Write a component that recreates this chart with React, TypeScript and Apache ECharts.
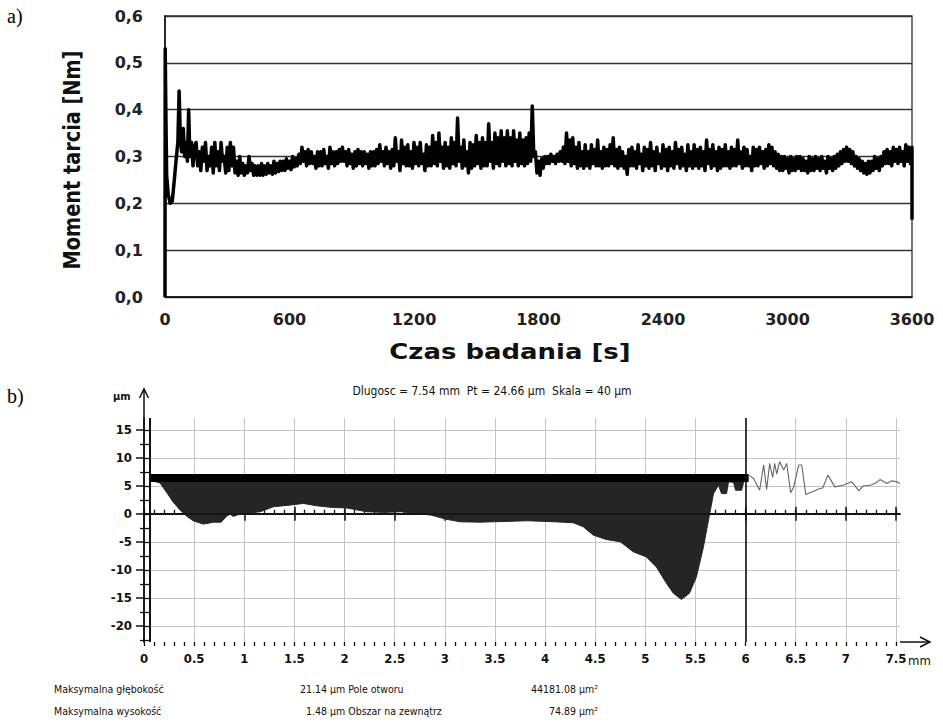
import React, { useEffect, useRef } from 'react';
import * as echarts from 'echarts';

// ---------- Panel a) : friction moment vs time ----------
const timeTicks = [0, 600, 1200, 1800, 2400, 3000, 3600];
const torqueTicks = [0, 0.1, 0.2, 0.3, 0.4, 0.5, 0.6];

// detailed start of the run (time [s], torque [Nm])
const startTime = [0, 1, 4, 8, 15, 25, 35, 45, 55, 62, 68, 74, 80, 88, 95, 102, 108, 114, 120, 128, 135, 142];
const startTorque = [0, 0.53, 0.40, 0.26, 0.22, 0.20, 0.205, 0.25, 0.30, 0.33, 0.44, 0.34, 0.31, 0.36, 0.30, 0.33, 0.29, 0.40, 0.30, 0.33, 0.28, 0.32];

// noisy signal read as local peaks (upper) and troughs (lower), every 15 s from 150 s
const sampleStart = 150;
const sampleStep = 15;
const torqueUpper = [
  0.33, 0.31, 0.32, 0.33, 0.30, 0.32, 0.33, 0.31, 0.33, 0.30, 0.32, 0.33, 0.32, 0.29, 0.30, 0.285, 0.28, 0.30, 0.285, 0.28,
  0.28, 0.285, 0.28, 0.285, 0.28, 0.29, 0.285, 0.29, 0.29, 0.295, 0.29, 0.30, 0.295, 0.305, 0.32, 0.31, 0.315, 0.31, 0.30, 0.31,
  0.31, 0.315, 0.30, 0.32, 0.31, 0.31, 0.315, 0.32, 0.31, 0.315, 0.305, 0.31, 0.315, 0.31, 0.31, 0.305, 0.31, 0.31, 0.315, 0.325,
  0.31, 0.32, 0.31, 0.315, 0.34, 0.31, 0.335, 0.32, 0.325, 0.31, 0.33, 0.32, 0.33, 0.305, 0.325, 0.32, 0.345, 0.33, 0.35, 0.32,
  0.33, 0.32, 0.34, 0.33, 0.382, 0.32, 0.335, 0.31, 0.33, 0.325, 0.345, 0.33, 0.34, 0.33, 0.37, 0.33, 0.35, 0.34, 0.355, 0.34,
  0.355, 0.34, 0.355, 0.335, 0.35, 0.335, 0.34, 0.35, 0.408, 0.31, 0.29, 0.295, 0.30, 0.30, 0.305, 0.30, 0.305, 0.31, 0.32, 0.35,
  0.335, 0.34, 0.32, 0.33, 0.31, 0.325, 0.31, 0.325, 0.315, 0.335, 0.31, 0.32, 0.315, 0.325, 0.34, 0.315, 0.32, 0.31, 0.30, 0.315,
  0.32, 0.31, 0.325, 0.305, 0.32, 0.315, 0.33, 0.31, 0.32, 0.305, 0.325, 0.315, 0.32, 0.31, 0.33, 0.315, 0.32, 0.305, 0.325, 0.31,
  0.325, 0.315, 0.32, 0.31, 0.335, 0.315, 0.325, 0.31, 0.32, 0.315, 0.325, 0.31, 0.32, 0.315, 0.335, 0.31, 0.32, 0.315, 0.30, 0.32,
  0.315, 0.32, 0.31, 0.315, 0.325, 0.32, 0.31, 0.305, 0.30, 0.30, 0.295, 0.30, 0.295, 0.30, 0.30, 0.295, 0.29, 0.30, 0.295, 0.30,
  0.295, 0.30, 0.29, 0.30, 0.295, 0.30, 0.305, 0.31, 0.315, 0.32, 0.315, 0.31, 0.30, 0.295, 0.29, 0.285, 0.29, 0.29, 0.30, 0.295,
  0.30, 0.31, 0.315, 0.31, 0.32, 0.315, 0.32, 0.31, 0.325, 0.32, 0.32,
];
const torqueLower = [
  0.28, 0.27, 0.29, 0.27, 0.28, 0.265, 0.28, 0.27, 0.29, 0.265, 0.27, 0.28, 0.265, 0.26, 0.265, 0.26, 0.265, 0.27, 0.26, 0.26,
  0.26, 0.26, 0.262, 0.265, 0.262, 0.265, 0.268, 0.27, 0.27, 0.275, 0.272, 0.278, 0.28, 0.285, 0.29, 0.28, 0.285, 0.285, 0.275, 0.28,
  0.28, 0.285, 0.275, 0.285, 0.28, 0.285, 0.29, 0.29, 0.28, 0.285, 0.275, 0.28, 0.285, 0.28, 0.285, 0.275, 0.28, 0.28, 0.285, 0.29,
  0.28, 0.285, 0.275, 0.28, 0.29, 0.27, 0.285, 0.28, 0.28, 0.275, 0.285, 0.28, 0.285, 0.27, 0.28, 0.28, 0.285, 0.28, 0.29, 0.275,
  0.28, 0.275, 0.285, 0.28, 0.29, 0.275, 0.28, 0.265, 0.275, 0.28, 0.285, 0.275, 0.28, 0.28, 0.29, 0.275, 0.285, 0.28, 0.29, 0.28,
  0.285, 0.28, 0.29, 0.28, 0.285, 0.28, 0.285, 0.29, 0.30, 0.265, 0.26, 0.275, 0.285, 0.285, 0.29, 0.285, 0.29, 0.29, 0.285, 0.29,
  0.28, 0.285, 0.275, 0.28, 0.275, 0.28, 0.275, 0.285, 0.28, 0.28, 0.275, 0.28, 0.28, 0.285, 0.28, 0.275, 0.28, 0.275, 0.262, 0.28,
  0.28, 0.275, 0.285, 0.27, 0.28, 0.275, 0.28, 0.27, 0.285, 0.275, 0.28, 0.27, 0.28, 0.275, 0.285, 0.275, 0.28, 0.27, 0.28, 0.275,
  0.28, 0.275, 0.28, 0.27, 0.285, 0.275, 0.28, 0.27, 0.275, 0.28, 0.28, 0.275, 0.28, 0.28, 0.285, 0.275, 0.28, 0.28, 0.27, 0.28,
  0.28, 0.285, 0.275, 0.28, 0.285, 0.28, 0.275, 0.27, 0.27, 0.275, 0.265, 0.27, 0.27, 0.275, 0.27, 0.27, 0.265, 0.27, 0.27, 0.275,
  0.27, 0.275, 0.265, 0.275, 0.27, 0.275, 0.28, 0.285, 0.29, 0.29, 0.285, 0.28, 0.275, 0.27, 0.265, 0.262, 0.265, 0.27, 0.275, 0.27,
  0.28, 0.285, 0.285, 0.28, 0.29, 0.285, 0.29, 0.28, 0.29, 0.285,
];
const endTime = 3600;
const endTorque = 0.165;

// ---------- Panel b) : surface profile ----------
const xMajorTicks = [0, 0.5, 1, 1.5, 2, 2.5, 3, 3.5, 4, 4.5, 5, 5.5, 6, 6.5, 7, 7.5];
const xMinorTicks = Array.from({ length: 76 }, (_, i) => i / 10);
const yMajorTicks = [-20, -15, -10, -5, 0, 5, 10, 15];
const yMinorTicks = [-22.5, -17.5, -12.5, -7.5, -2.5, 2.5, 7.5, 12.5];
const yAllTicks = [-22.5, -20, -17.5, -15, -12.5, -10, -7.5, -5, -2.5, 0, 2.5, 5, 7.5, 10, 12.5, 15];

const profileX = [0.055, 0.06, 0.16, 0.23, 0.29, 0.36, 0.43, 0.49, 0.59, 0.64, 0.69, 0.77, 0.82, 0.86, 0.89, 0.93, 0.99, 1.08, 1.16, 1.29, 1.46, 1.59, 1.72, 1.89, 2.02, 2.22, 2.39, 2.56, 2.72, 2.86, 3.02, 3.15, 3.35, 3.48, 3.65, 3.82, 4.05, 4.28, 4.38, 4.48, 4.61, 4.75, 4.88, 5.01, 5.11, 5.21, 5.28, 5.36, 5.44, 5.51, 5.58, 5.63, 5.68, 5.73, 5.76, 5.81, 5.83, 5.88, 5.90, 5.96, 5.98, 6.03];
const profileY = [6.4, 6.0, 5.5, 3.7, 2.1, 0.66, -0.5, -1.25, -1.85, -1.7, -1.5, -1.5, -0.5, -0.05, -0.5, -0.2, 0, 0.2, 0.36, 1.25, 1.55, 1.85, 1.43, 1.1, 1.05, 0.36, 0.24, 0.36, 0.06, -0.24, -1.0, -1.43, -1.5, -1.43, -1.35, -1.25, -1.4, -1.6, -2.3, -3.8, -4.6, -5.0, -6.8, -7.7, -9.5, -12.4, -14.2, -15.3, -14.2, -11.25, -5.9, -1.1, 3.6, 5.1, 3.6, 3.6, 5.7, 5.6, 4.2, 4.2, 5.6, 6.3];

const outsideX = [6.03, 6.08, 6.14, 6.18, 6.21, 6.24, 6.27, 6.29, 6.31, 6.34, 6.38, 6.41, 6.45, 6.48, 6.53, 6.56, 6.60, 6.66, 6.74, 6.77, 6.82, 6.89, 6.97, 7.06, 7.13, 7.17, 7.24, 7.29, 7.34, 7.41, 7.46, 7.51, 7.54];
const outsideY = [6.9, 6.3, 4.2, 8.7, 4.35, 9.0, 6.5, 9.0, 7.1, 9.3, 7.8, 9.0, 3.75, 4.8, 8.7, 8.7, 3.45, 3.9, 4.5, 4.6, 6.9, 4.8, 5.1, 5.7, 4.1, 4.95, 5.1, 5.4, 6.1, 5.4, 5.9, 5.7, 5.4];

const referenceLevel = 6.4;
const referenceX = [0.055, 6.03];
const holeEnd = 6;
const profileStart = 0.055;

const NARROW = '"Liberation Sans Narrow", "DejaVu Sans Condensed", "Arial Narrow", "Liberation Sans", sans-serif';
const WIDE = '"DejaVu Sans", "Liberation Sans", sans-serif';
const SERIF = '"Liberation Serif", "DejaVu Serif", serif';

// layout
const A = { left: 165, top: 16, width: 747, height: 281 };
const B = { left: 144, top: 418, width: 756, height: 224 };

export default function App() {
  const ref = useRef<HTMLDivElement>(null);

  useEffect(() => {
    const chart = echarts.init(ref.current!, null, { renderer: 'svg' });

    const torqueData: number[][] = startTime.map((t, i) => [t, startTorque[i]]);
    torqueUpper.forEach((v, i) => {
      const t = sampleStart + i * sampleStep;
      torqueData.push([t, v]);
      if (i < torqueLower.length) torqueData.push([t + sampleStep / 2, torqueLower[i]]);
    });
    torqueData.push([endTime, endTorque]);

    const profileData = profileX.map((x, i) => [x, profileY[i]]);
    const outsideData = outsideX.map((x, i) => [x, outsideY[i]]);
    const referenceData = referenceX.map((x) => [x, referenceLevel]);

    const bRight = B.left + B.width;
    const bBottom = B.top + B.height;

    const bLabel = { fontFamily: NARROW, fontSize: 13, fontWeight: 'bold' as const, color: '#111' };

    const option: any = {
      animation: false,
      backgroundColor: '#fff',
      grid: [
        { ...A, show: true, borderColor: '#333', borderWidth: 1.3, containLabel: false },
        { ...B, show: false, containLabel: false },
      ],
      xAxis: [
        {
          gridIndex: 0,
          type: 'value',
          min: 0,
          max: 3600,
          interval: 600,
          axisLine: { show: true, lineStyle: { color: '#111', width: 1.5 } },
          axisTick: { show: false },
          splitLine: { show: false },
          axisLabel: {
            margin: 14,
            fontFamily: WIDE,
            fontWeight: 'bold',
            fontSize: 16,
            color: '#222',
            customValues: timeTicks,
            formatter: (v: number) => String(v),
          },
        },
        {
          gridIndex: 1,
          type: 'value',
          position: 'bottom',
          min: 0,
          max: 7.54,
          interval: 0.5,
          axisLine: { show: true, lineStyle: { color: '#111', width: 1.5 } },
          axisTick: { show: true, length: 7, customValues: xMajorTicks, lineStyle: { color: '#111', width: 1.5 } },
          axisLabel: {
            show: true,
            margin: 10,
            customValues: xMajorTicks,
            formatter: (v: number) => String(v),
            ...bLabel,
          },
          splitLine: { show: true, lineStyle: { color: '#c4c4c4', width: 1 } },
        },
        {
          gridIndex: 1,
          type: 'value',
          position: 'top',
          min: 0,
          max: 7.54,
          interval: 0.5,
          axisLine: { show: true, lineStyle: { color: '#111', width: 1.5 } },
          axisTick: { show: true, length: 7, customValues: xMajorTicks, lineStyle: { color: '#111', width: 1.5 } },
          axisLabel: { show: false },
          splitLine: { show: false },
        },
        {
          gridIndex: 1,
          type: 'value',
          position: 'top',
          min: 0,
          max: 7.54,
          interval: 0.5,
          axisLine: { show: false },
          axisTick: { show: true, length: 4, customValues: xMinorTicks, lineStyle: { color: '#111', width: 1.3 } },
          axisLabel: { show: false },
          splitLine: { show: false },
        },
        {
          gridIndex: 1,
          type: 'value',
          position: 'bottom',
          min: 0,
          max: 7.54,
          interval: 0.5,
          axisLine: { show: false },
          axisTick: { show: true, length: 4, customValues: xMinorTicks, lineStyle: { color: '#111', width: 1.3 } },
          axisLabel: { show: false },
          splitLine: { show: false },
        },
      ],
      yAxis: [
        {
          gridIndex: 0,
          type: 'value',
          min: 0,
          max: 0.6,
          interval: 0.1,
          axisLine: { show: true, lineStyle: { color: '#111', width: 1.5 } },
          axisTick: { show: false },
          splitLine: { show: true, lineStyle: { color: '#333', width: 1.3 } },
          axisLabel: {
            margin: 22,
            fontFamily: WIDE,
            fontWeight: 'bold',
            fontSize: 16,
            color: '#222',
            customValues: torqueTicks,
            formatter: (v: number) => v.toFixed(1).replace('.', ','),
          },
        },
        {
          gridIndex: 1,
          type: 'value',
          position: 'left',
          min: -22.9,
          max: 17.1,
          axisLine: { show: true, lineStyle: { color: '#111', width: 1.5 } },
          axisTick: { show: true, length: 8, customValues: yMajorTicks, lineStyle: { color: '#111', width: 1.5 } },
          axisLabel: { show: true, margin: 12, customValues: yMajorTicks, ...bLabel },
          splitLine: { show: true, lineStyle: { color: '#c4c4c4', width: 1 } },
        },
        {
          gridIndex: 1,
          type: 'value',
          position: 'left',
          min: -22.9,
          max: 17.1,
          axisLine: { show: false },
          axisTick: { show: true, length: 4, customValues: yMinorTicks, lineStyle: { color: '#111', width: 1.3 } },
          axisLabel: { show: false },
          splitLine: { show: false },
        },
        {
          gridIndex: 1,
          type: 'value',
          position: 'right',
          min: -22.9,
          max: 17.1,
          axisLine: { show: true, lineStyle: { color: '#111', width: 1.5 } },
          axisTick: { show: true, length: 5, customValues: yAllTicks, lineStyle: { color: '#111', width: 1.3 } },
          axisLabel: { show: false },
          splitLine: { show: false },
        },
      ],
      series: [
        {
          name: 'Moment tarcia',
          type: 'line',
          xAxisIndex: 0,
          yAxisIndex: 0,
          data: torqueData,
          showSymbol: false,
          symbol: 'none',
          lineStyle: { color: '#000', width: 3.5, join: 'round' },
          z: 5,
        },
        {
          name: 'Profil',
          type: 'line',
          xAxisIndex: 1,
          yAxisIndex: 1,
          data: profileData,
          showSymbol: false,
          symbol: 'none',
          lineStyle: { color: '#252525', width: 1 },
          areaStyle: { color: '#252525', opacity: 1, origin: referenceLevel },
          z: 3,
          markLine: {
            silent: true,
            symbol: ['none', 'none'],
            label: { show: false },
            lineStyle: { color: '#111', width: 1.6, type: 'solid' },
            data: [
              { xAxis: holeEnd },
              { xAxis: profileStart, lineStyle: { color: '#111', width: 2, type: 'solid' } },
              { yAxis: 0 },
            ],
          },
        },
        {
          name: 'Linia odniesienia',
          type: 'line',
          xAxisIndex: 1,
          yAxisIndex: 1,
          data: referenceData,
          showSymbol: false,
          symbol: 'none',
          lineStyle: { color: '#000', width: 8, cap: 'butt' },
          z: 4,
        },
        {
          name: 'Profil zewnętrzny',
          type: 'line',
          xAxisIndex: 1,
          yAxisIndex: 1,
          data: outsideData,
          showSymbol: false,
          symbol: 'none',
          lineStyle: { color: '#666', width: 1.1 },
          z: 4,
        },
      ],
      graphic: [
        { type: 'text', left: 7, top: 6, style: { text: 'a)', font: `20px ${SERIF}`, fill: '#000' } },
        { type: 'text', left: 7, top: 386, style: { text: 'b)', font: `20px ${SERIF}`, fill: '#000' } },
        {
          type: 'text',
          x: 72,
          y: 160,
          rotation: Math.PI / 2,
          scaleX: 0.84,
          style: {
            text: 'Moment tarcia [Nm]',
            font: `bold 23px ${WIDE}`,
            fill: '#111',
            align: 'center',
            verticalAlign: 'middle',
          },
        },
        {
          type: 'text',
          x: 510,
          y: 352,
          scaleX: 1.18,
          style: {
            text: 'Czas badania [s]',
            font: `bold 22px ${WIDE}`,
            fill: '#111',
            align: 'center',
            verticalAlign: 'middle',
          },
        },
        {
          type: 'text',
          x: 492,
          y: 391,
          style: {
            text: 'Dlugosc = 7.54 mm  Pt = 24.66 µm  Skala = 40 µm',
            font: `12px ${NARROW}`,
            fill: '#111',
            align: 'center',
            verticalAlign: 'middle',
          },
        },
        { type: 'text', x: 113, y: 396, style: { text: 'µm', font: `bold 11px ${NARROW}`, fill: '#111', verticalAlign: 'middle' } },
        { type: 'text', x: 908, y: 660, style: { text: 'mm', font: `13px ${NARROW}`, fill: '#111', verticalAlign: 'middle' } },
        // axis arrows
        { type: 'line', shape: { x1: B.left, y1: B.top, x2: B.left, y2: 389 }, style: { stroke: '#111', lineWidth: 1.5 } },
        { type: 'polyline', shape: { points: [[B.left - 4.5, 398], [B.left, 389], [B.left + 4.5, 398]] }, style: { stroke: '#111', lineWidth: 1.5, fill: 'none' } },
        { type: 'line', shape: { x1: bRight, y1: bBottom, x2: 930, y2: bBottom }, style: { stroke: '#111', lineWidth: 1.5 } },
        { type: 'polyline', shape: { points: [[920, bBottom - 5], [930, bBottom], [920, bBottom + 5]] }, style: { stroke: '#111', lineWidth: 1.5, fill: 'none' } },
        // results table
        { type: 'text', x: 54, y: 689, style: { text: 'Maksymalna głębokość', font: `10.5px ${NARROW}`, fill: '#111', verticalAlign: 'middle' } },
        { type: 'text', x: 327, y: 689, style: { text: '21.14', font: `10.5px ${NARROW}`, fill: '#111', align: 'right', verticalAlign: 'middle' } },
        { type: 'text', x: 330, y: 689, style: { text: 'µm Pole otworu', font: `10.5px ${NARROW}`, fill: '#111', verticalAlign: 'middle' } },
        { type: 'text', x: 598, y: 689, style: { text: '44181.08 µm²', font: `10.5px ${NARROW}`, fill: '#111', align: 'right', verticalAlign: 'middle' } },
        { type: 'text', x: 54, y: 711, style: { text: 'Maksymalna wysokość', font: `10.5px ${NARROW}`, fill: '#111', verticalAlign: 'middle' } },
        { type: 'text', x: 327, y: 711, style: { text: '1.48', font: `10.5px ${NARROW}`, fill: '#111', align: 'right', verticalAlign: 'middle' } },
        { type: 'text', x: 330, y: 711, style: { text: 'µm Obszar na zewnątrz', font: `10.5px ${NARROW}`, fill: '#111', verticalAlign: 'middle' } },
        { type: 'text', x: 598, y: 711, style: { text: '74.89 µm²', font: `10.5px ${NARROW}`, fill: '#111', align: 'right', verticalAlign: 'middle' } },
      ],
    };

    chart.setOption(option);
    return () => chart.dispose();
  }, []);

  return (
    <div
      ref={ref}
      style={{ position: 'fixed', left: 0, top: 0, width: 943, height: 722, background: '#fff' }}
    />
  );
}
